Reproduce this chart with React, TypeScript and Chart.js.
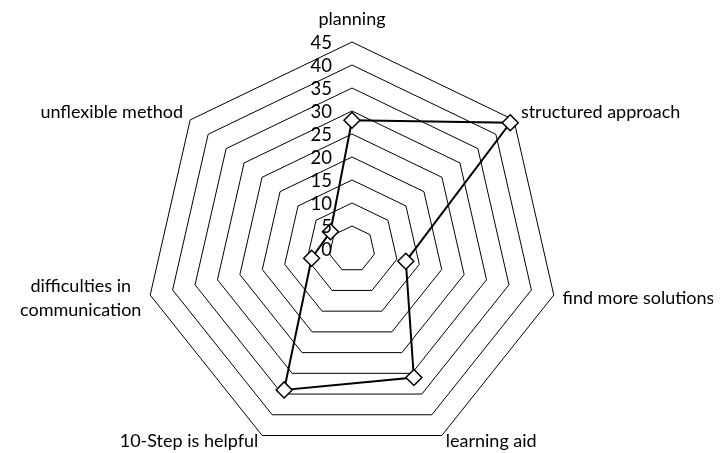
import React, { useEffect, useRef } from 'react';
import { Chart, registerables } from 'chart.js';

Chart.register(...registerables);

// ---- data ----
const categories: (string | string[])[] = [
  'planning',
  'structured approach',
  'find more solutions',
  'learning aid',
  '10-Step is helpful',
  ['difficulties in', 'communication'],
  'unflexible method',
];
const values: number[] = [28, 44, 12, 31, 34, 9, 6];
const tickValues: number[] = [0, 5, 10, 15, 20, 25, 30, 35, 40, 45];
const axisMin = 0;
const axisMax = 45;
const axisStep = 5;

// ---- style ----
const FONT = 'Lato, "Open Sans", sans-serif';
const LABEL_SIZE = 18;
const TICK_SIZE = 18.5;
const LINE_H = 24;

const excelLabels = {
  id: 'excelLabels',
  afterDatasetsDraw(chart: any) {
    const scale = chart.scales.r;
    const ctx: CanvasRenderingContext2D = chart.ctx;
    ctx.save();
    ctx.fillStyle = '#000';
    ctx.textBaseline = 'middle';

    // tick labels, right-aligned left of the vertical axis
    ctx.font = `${TICK_SIZE}px ${FONT}`;
    ctx.textAlign = 'right';
    tickValues.forEach((t) => {
      const d = scale.getDistanceFromCenterForValue(t);
      ctx.fillText(String(t), scale.xCenter - 20, scale.yCenter - d + 1);
    });

    // category labels
    ctx.font = `${LABEL_SIZE}px ${FONT}`;
    ctx.textAlign = 'center';
    const R = scale.drawingArea;
    const labels = chart.data.labels as (string | string[])[];
    labels.forEach((lab, i) => {
      const lines = Array.isArray(lab) ? lab : [lab];
      const vtx = scale.getPointPosition(i, R);
      const pt = scale.getPointPosition(i, R + 9);
      const ang = scale.getIndexAngle(i);
      const s = Math.sin(ang);
      const c = Math.cos(ang);
      const midY = vtx.y - c * 12 - (c > 0.95 ? 11 : 0) - (c < -0.8 ? 5 : 0);
      const bw = Math.max(...lines.map((l) => ctx.measureText(l).width));
      let xc: number;
      if (Math.abs(s) < 0.05) xc = vtx.x;
      else if (s > 0) xc = pt.x + bw / 2;
      else xc = pt.x - bw / 2;
      const top = midY - ((lines.length - 1) * LINE_H) / 2;
      lines.forEach((l, k) => ctx.fillText(l, xc, top + k * LINE_H));
    });
    ctx.restore();
  },
};

export default function App() {
  const ref = useRef<HTMLCanvasElement>(null);
  useEffect(() => {
    if (!ref.current) return;
    document.documentElement.style.overflow = 'hidden';
    const chart = new Chart(ref.current, {
      type: 'radar',
      data: {
        labels: categories as any,
        datasets: [
          {
            data: values,
            borderColor: '#000',
            borderWidth: 2,
            backgroundColor: 'rgba(0,0,0,0)',
            fill: false,
            pointStyle: 'rectRot',
            pointRadius: 8,
            pointBorderWidth: 1.5,
            pointBackgroundColor: '#fff',
            pointBorderColor: '#000',
            tension: 0,
          },
        ],
      },
      options: {
        animation: false,
        responsive: true,
        maintainAspectRatio: false,
        layout: { padding: { left: 137, top: 34, right: 154, bottom: 0 } },
        plugins: {
          legend: { display: false },
          tooltip: { enabled: false },
        },
        scales: {
          r: {
            min: axisMin,
            max: axisMax,
            ticks: { stepSize: axisStep, display: false },
            grid: { color: '#000', lineWidth: 1 },
            angleLines: { display: false },
            pointLabels: { display: false },
          },
        },
      },
      plugins: [excelLabels],
    });
    return () => chart.destroy();
  }, []);

  return (
    <div style={{ width: 705, height: 445, overflow: 'hidden' }}>
      <div style={{ position: 'relative', width: 705, height: 448 }}>
        <canvas ref={ref} />
      </div>
    </div>
  );
}
